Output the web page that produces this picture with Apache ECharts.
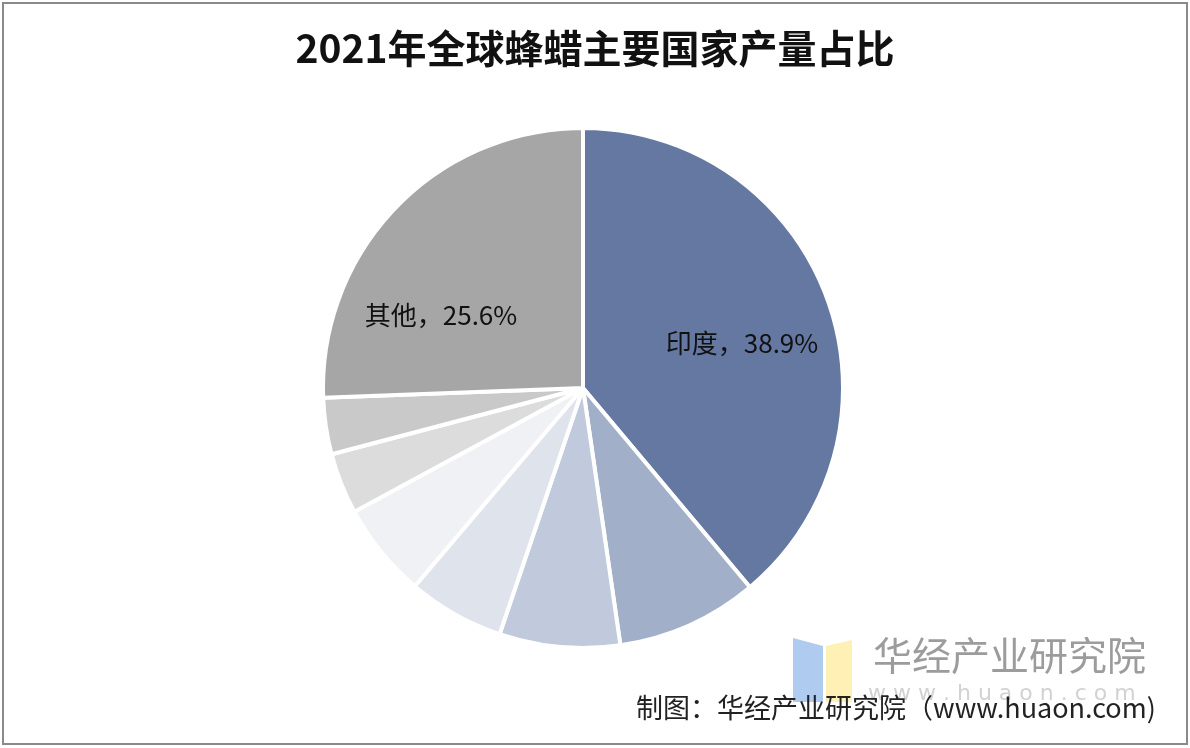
<!DOCTYPE html>
<html><head><meta charset="utf-8">
<script src="https://cdn.jsdelivr.net/npm/echarts@6/dist/echarts.min.js"></script>
<style>html,body{margin:0;padding:0;background:#fff}#c{width:1190px;height:748px}</style>
</head><body><div id="c"></div>
<script>
const categories = ['印度','埃塞俄比亚','阿根廷','土耳其','坦桑尼亚','肯尼亚','安哥拉','其他'];
const values = [38.9, 8.8, 7.5, 6.0, 5.9, 3.8, 3.5, 25.6];
const colors = ['#6478A2','#A2AFC9','#C1CADC','#DEE3EC','#F0F1F4','#DCDCDC','#C9C9C9','#A6A6A6'];
const showLabel = [true,false,false,false,false,false,false,true];
const titleText = '2021年全球蜂蜡主要国家产量占比';
const sourceText = '制图：华经产业研究院（www.huaon.com)';

const chart = echarts.init(document.getElementById('c'), null, {renderer:'canvas'});
const data = categories.map((n,i)=>({
  name:n, value:values[i],
  itemStyle:{color:colors[i]},
  label:{show:showLabel[i]}
}));
chart.setOption({
  backgroundColor:'#fff',
  animation:false,
  title:{text:titleText,left:'center',top:24,
    textStyle:{fontFamily:'Noto Sans CJK SC',fontSize:39,fontWeight:'bold',color:'#111'}},
  series:[{
    type:'pie',
    center:[583,388],
    radius:[0,260],
    startAngle:90,
    clockwise:true,
    data:data,
    itemStyle:{borderColor:'#fff',borderWidth:4},
    label:{position:'inside',formatter:p=>p.name+'，'+p.value.toFixed(1)+'%',
      fontFamily:'Noto Sans CJK SC',fontSize:26,color:'#111'},
    labelLine:{show:false},
    labelLayout:function(p){
      if(p.dataIndex===0) return {x:742,y:343};
      if(p.dataIndex===7) return {x:441,y:315};
      return {};
    },
    emphasis:{disabled:true}
  }],
  graphic:[
    {type:'rect',shape:{x:3,y:3,width:1184,height:741},style:{fill:'none',stroke:'#8a8a8a',lineWidth:2},silent:true},
    {type:'polygon',shape:{points:[[793,638],[823,646],[823,702],[793,702]]},style:{fill:'#AFCBEF'},z:5},
    {type:'polygon',shape:{points:[[826,646],[852,640],[852,702],[826,702]]},style:{fill:'#FFF1B5'},z:5},
    {type:'text',left:873,top:636,style:{text:'华经产业研究院',font:'39px "Noto Sans CJK SC"',fill:'#9c9c9c'},z:5},
    {type:'text',left:868,top:683,style:{text:'w w w . h u a o n . c o m',font:'22px "DejaVu Sans"',fill:'#d2d2d2'},z:5},
    {type:'text',left:636,top:694,style:{text:sourceText,font:'27px "Noto Sans CJK SC"',fill:'#222'},z:6}
  ]
});
</script></body></html>
